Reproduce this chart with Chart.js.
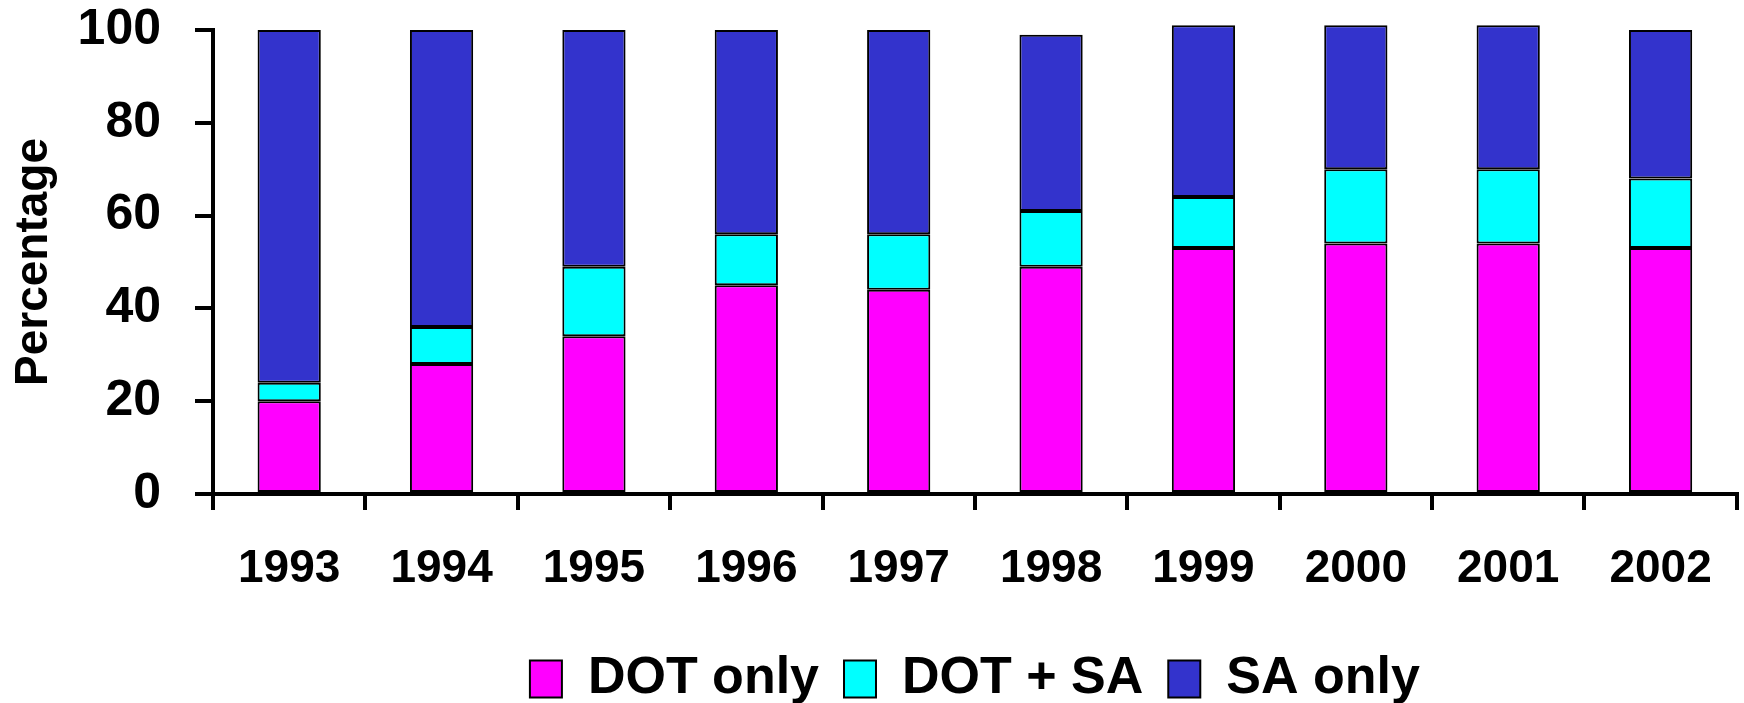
<!DOCTYPE html>
<html lang="en">
<head>
    <meta charset="UTF-8">
    <title>DOT / SA percentage by year</title>
    <script src="https://cdn.jsdelivr.net/npm/chart.js"></script>
    <style>
        body { margin: 0; background: white; }
        canvas { display: block; }
    </style>
</head>
<body>
    <canvas id="barChart" width="1744" height="703"></canvas>

    <script>
        const years = ['1993', '1994', '1995', '1996', '1997', '1998', '1999', '2000', '2001', '2002'];
        const dotOnly = [20, 28, 34, 45, 44, 49, 53, 54, 54, 53];
        const dotPlusSa = [4, 8, 15, 11, 12, 12, 11, 16, 16, 15];
        const saOnly = [76, 64, 51, 44, 44, 38, 37, 31, 31, 32];
        const yTicks = [0, 20, 40, 60, 80, 100];

        const fontFamily = '"Liberation Sans", Arial, sans-serif';

        function series(label, values, color) {
            return {
                label: label,
                data: values,
                backgroundColor: color,
                borderColor: 'black',
                borderWidth: 2,
                borderSkipped: false,
                barPercentage: 0.415,
                categoryPercentage: 1,
                clip: false
            };
        }

        new Chart(document.getElementById('barChart').getContext('2d'), {
            type: 'bar',
            data: {
                labels: years,
                datasets: [
                    series('DOT only', dotOnly, '#ff00ff'),
                    series('DOT + SA', dotPlusSa, '#00ffff'),
                    series('SA only', saOnly, '#3333cc')
                ]
            },
            options: {
                responsive: false,
                animation: false,
                layout: { padding: { top: 0, right: 5, left: 0, bottom: -12 } },
                plugins: {
                    tooltip: { enabled: false },
                    legend: {
                        position: 'bottom',
                        fullSize: false,
                        labels: {
                            color: 'black',
                            font: { family: fontFamily, size: 52, weight: 'bold' },
                            boxWidth: 32,
                            boxHeight: 37,
                            padding: 25
                        }
                    }
                },
                scales: {
                    x: {
                        stacked: true,
                        afterFit: (scale) => { scale.height = 134; },
                        border: { color: 'black', width: 4 },
                        grid: { offset: true, drawOnChartArea: false, color: 'black', lineWidth: 4, tickLength: 16 },
                        ticks: {
                            color: 'black',
                            padding: 32,
                            font: { family: fontFamily, size: 46, weight: 'bold' }
                        }
                    },
                    y: {
                        stacked: true,
                        min: 0,
                        max: 100,
                        afterFit: (scale) => {
                            // the tick padding would otherwise push the plot top down
                            scale.width = 213;
                            scale.paddingTop = 30;
                            scale.paddingBottom = 0;
                        },
                        afterBuildTicks: (scale) => { scale.ticks = yTicks.map(v => ({ value: v })); },
                        border: { color: 'black', width: 4 },
                        grid: { drawOnChartArea: false, color: 'black', lineWidth: 4, tickLength: 18 },
                        ticks: {
                            color: 'black',
                            padding: 34,
                            font: { family: fontFamily, size: 50, weight: 'bold' }
                        },
                        title: {
                            display: true,
                            text: 'Percentage',
                            color: 'black',
                            padding: { top: 7, bottom: 0 },
                            font: { family: fontFamily, size: 46, weight: 'bold' }
                        }
                    }
                }
            }
        });
    </script>
</body>
</html>
